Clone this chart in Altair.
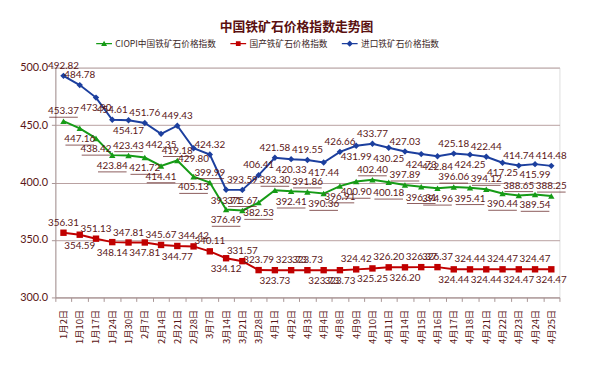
import altair as alt
import pandas as pd

dates = ["1月2日", "1月10日", "1月17日", "1月24日", "1月30日", "2月7日", "2月14日", "2月21日",
         "2月28日", "3月7日", "3月14日", "3月21日", "3月28日", "4月1日", "4月2日", "4月3日",
         "4月4日", "4月8日", "4月9日", "4月10日", "4月11日", "4月14日", "4月15日", "4月16日",
         "4月17日", "4月18日", "4月21日", "4月22日", "4月23日", "4月24日", "4月25日"]

series_names = ["CIOPI中国铁矿石价格指数", "国产铁矿石价格指数", "进口铁矿石价格指数"]

ciopi = [453.37, 447.16, 438.42, 423.84, 423.43, 421.72, 414.41, 419.18, 405.13, 399.99,
         376.49, 375.67, 382.53, 393.30, 392.41, 391.86, 390.36, 396.91, 400.90, 402.40,
         400.18, 397.89, 396.31, 394.96, 396.06, 395.41, 394.12, 390.44, 388.65, 389.54, 388.25]

domestic = [356.31, 354.59, 351.13, 348.14, 347.81, 347.81, 345.67, 344.77, 344.42, 340.11,
            334.12, 331.57, 323.79, 323.73, 323.73, 323.73, 323.73, 323.73, 324.42, 325.25,
            326.20, 326.20, 326.37, 326.37, 324.44, 324.44, 324.44, 324.47, 324.47, 324.47, 324.47]

imported = [492.82, 484.78, 473.90, 454.61, 454.17, 451.76, 442.35, 449.43, 429.80, 424.32,
            393.71, 393.59, 406.41, 421.58, 420.33, 419.55, 417.44, 426.66, 431.99, 433.77,
            430.25, 427.03, 424.73, 422.84, 425.18, 424.25, 422.44, 417.25, 414.74, 415.99, 414.48]

# label side: a = above point, b = below point
ciopi_side = ["a", "b", "b", "b", "a", "b", "b", "a", "b", "a",
              "b", "a", "b", "a", "b", "a", "b", "b", "b", "a",
              "b", "a", "b", "b", "a", "b", "a", "b", "a", "b", "a"]
domestic_side = ["a", "b", "a", "b", "a", "b", "a", "b", "a", "a",
                 "b", "a", "a", "b", "a", "a", "b", "b", "a", "b",
                 "a", "b", "a", "a", "b", "a", "b", "a", "b", "a", "b"]
imported_side = ["a", "a", "b", "a", "b", "a", "b", "a", "b", "a",
                 "b", "a", "a", "a", "b", "a", "b", "a", "b", "a",
                 "b", "a", "b", "b", "a", "b", "a", "b", "a", "b", "a"]

colors = ["#169b16", "#c00000", "#1c3f9e"]
shapes = ["triangle-up", "square", "diamond"]
sizes = [42, 42, 30]
legend_paths = [
    "M-2,-0.16H2V0.16H-2Z M0,-0.75L0.75,0.55H-0.75Z",
    "M-2,-0.16H2V0.16H-2Z M-0.6,-0.6H0.6V0.6H-0.6Z",
    "M-2,-0.16H2V0.16H-2Z M0,-0.8L0.8,0L0,0.8L-0.8,0Z",
]

rows = []
for name, vals, sides in zip(series_names, [ciopi, domestic, imported],
                             [ciopi_side, domestic_side, imported_side]):
    for d, v, s in zip(dates, vals, sides):
        rows.append({"date": d, "series": name, "value": v, "side": s})
df = pd.DataFrame(rows)

maroon = "#5a1616"
num_font = "Lato"
cjk_font = "Noto Sans CJK SC"

x = alt.X("date:N", sort=dates, title=None,
          scale=alt.Scale(type="band", paddingInner=0, paddingOuter=0),
          axis=alt.Axis(labelAngle=270, tickBand="extent", grid=False,
                        labelFont=cjk_font, labelFontSize=9.5, labelColor=maroon,
                        domainColor="#a89494", tickColor="#a89494", tickSize=4,
                        labelPadding=8))
y = alt.Y("value:Q", title=None,
          scale=alt.Scale(domain=[300, 500], nice=False, zero=False),
          axis=alt.Axis(values=[300, 350, 400, 450, 500], format=".1f",
                        labelFont=num_font, labelFontSize=11, labelColor=maroon,
                        gridColor="#b8a0a0", domainColor="#a89494",
                        tickColor="#a89494", tickSize=4, labelPadding=4))
color_nolegend = alt.Color("series:N", scale=alt.Scale(domain=series_names, range=colors),
                           legend=None)

base = alt.Chart(df)

lines = base.mark_line(strokeWidth=2).encode(x=x, y=y, color=color_nolegend)

points = base.mark_point(filled=True, opacity=1).encode(
    x=x, y=y, color=color_nolegend,
    shape=alt.Shape("series:N", scale=alt.Scale(domain=series_names, range=shapes), legend=None),
    size=alt.Size("series:N", scale=alt.Scale(domain=series_names, range=sizes), legend=None),
)

text_above = base.transform_filter(alt.datum.side == "a").mark_text(
    dy=-10, font=num_font, fontSize=10, color=maroon
).encode(x=x, y=y, text=alt.Text("value:Q", format=".2f"))

text_below = base.transform_filter(alt.datum.side == "b").mark_text(
    dy=11, font=num_font, fontSize=10, color=maroon
).encode(x=x, y=y, text=alt.Text("value:Q", format=".2f"))

green = base.transform_filter(alt.datum.series == series_names[0])
underline_above = green.transform_filter(alt.datum.side == "a").mark_tick(
    orient="horizontal", size=29, thickness=1, color=maroon, yOffset=-4
).encode(x=x, y=y)
underline_below = green.transform_filter(alt.datum.side == "b").mark_tick(
    orient="horizontal", size=29, thickness=1, color=maroon, yOffset=17
).encode(x=x, y=y)

# legend-only layer: no data rows survive the filter, the legend uses the fixed domain
legend_layer = base.transform_filter(alt.datum.value < 0).transform_calculate(
    lseries="datum.series"
).mark_point(filled=True, opacity=1).encode(
    x=x, y=y,
    color=alt.Color("lseries:N", scale=alt.Scale(domain=series_names, range=colors),
                    legend=alt.Legend(title=None, orient="none", direction="horizontal",
                                      legendX=45, legendY=-29,
                                      symbolOpacity=1, symbolSize=64, symbolStrokeWidth=0,
                                      labelOffset=7, columnPadding=14,
                                      labelFont=cjk_font, labelFontSize=8.8,
                                      labelColor="#3a2626")),
    shape=alt.Shape("lseries:N", scale=alt.Scale(domain=series_names, range=legend_paths)),
)

chart = alt.layer(
    lines, points, underline_above, underline_below, text_above, text_below, legend_layer
).resolve_scale(
    color="independent", shape="independent"
).properties(
    width=511, height=233,
    autosize=alt.AutoSizeParams(type="none"),
    padding={"left": 48, "top": 58, "right": 33, "bottom": 60},
    title=alt.TitleParams("中国铁矿石价格指数走势图", font=cjk_font, fontSize=13,
                          fontWeight="bold", color="#5a1010", anchor="middle",
                          offset=5, dx=-11),
).configure_view(stroke=None).configure(background="white")

chart.save("out.html", embed_options={"renderer": "svg", "actions": False})
